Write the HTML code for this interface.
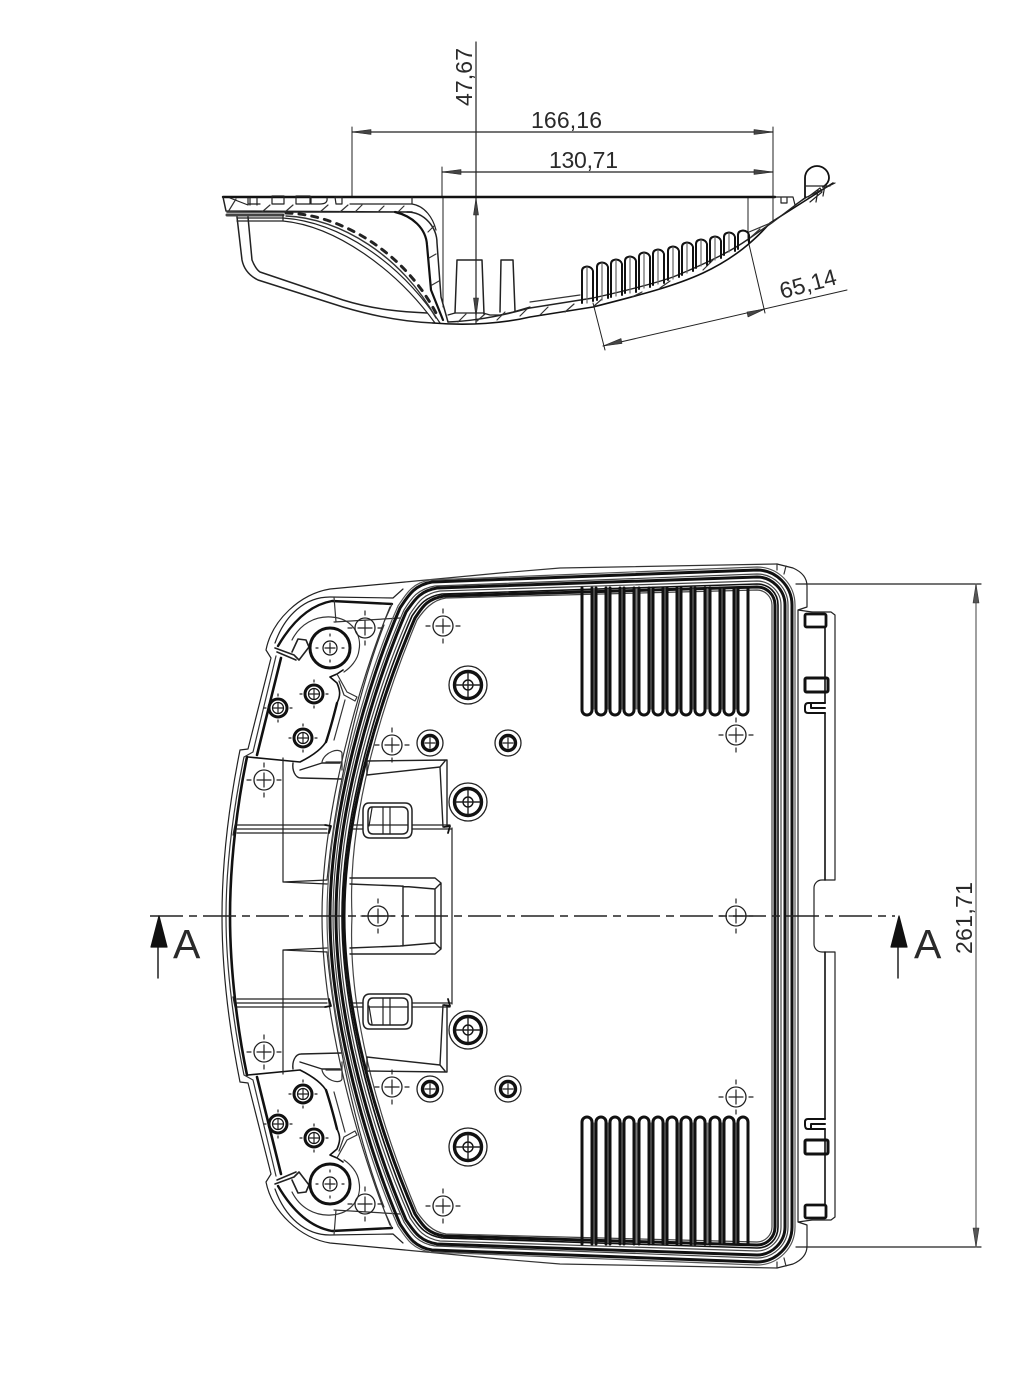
<!DOCTYPE html>
<html>
<head>
<meta charset="utf-8">
<style>
html,body{margin:0;padding:0;background:#fff;width:1024px;height:1380px;overflow:hidden}
svg{display:block}
text{font-family:"Liberation Sans",sans-serif;fill:#2a2a2a}
</style>
</head>
<body>
<svg width="1024" height="1380" viewBox="0 0 1024 1380" xmlns="http://www.w3.org/2000/svg" fill="none" stroke="#111" stroke-width="1.2" stroke-linecap="round" stroke-linejoin="round">
<defs>
<g id="fin">
<path d="M-5 588V710A5 5 0 0 0 5 710V588" stroke-width="3"/>
</g>
<g id="cross">
<circle r="10" stroke="#222" stroke-width="1.3"/>
<path d="M-7 0H7M0 -7V7M-17 0H-13M13 0H17M0 -17V-13M0 13V17" stroke="#222"/>
</g>
<g id="boltL">
<circle r="19" stroke="#222" stroke-width="1.3"/>
<circle r="13.500" stroke-width="3.4"/>
<circle r="5" stroke-width="1.4"/>
<path d="M-12 0H12M0 -12V12" stroke="#222" stroke-width="1.4"/>
</g>
<g id="boltM">
<circle r="13" stroke="#222" stroke-width="1.3"/>
<circle r="7.500" stroke-width="3.4"/>
<path d="M-5 0H5M0 -5V5" stroke="#222"/>
</g>
<g id="boltS">
<circle r="9" stroke-width="3"/>
<circle r="5.5" stroke-width="1.2"/>
<path d="M-5 0H5M0 -5V5M-14 0H-12M12 0H14M0 -14V-12M0 12V14" stroke="#222"/>
</g>
<g id="half">
<!-- outer contour -->
<path d="M405 582L330 589C300 594 272 620 266 650L271 658L248 749L240 750C232 790 222 850 222 916" stroke="#222"/>
<path d="M777 564L560 568L500 573L405 582" stroke="#333"/>
<!-- left lobe inner lines -->
<path d="M275 643C285 615 305 597 330 597L393 598L403 589" stroke="#222"/>
<path d="M278 646C292 622 310 605 332 601L392 604" stroke="#111" stroke-width="2.4"/>
<path d="M281 658L257 755M247 757C238 800 230 860 230 916" stroke="#111" stroke-width="2.6"/>
<path d="M276 656L253 752L244 757C235 800 226 860 226 916" stroke="#333"/>
<path d="M334 597L336 622M334 622L400 618" stroke="#333"/>
<path d="M392 604L384 622L390 607M322 916C322 810 360 680 390 607" stroke="#333"/>
<path d="M327 880C335 800 355 700 384 625" stroke="#333"/>
<path d="M275 648L294 655L299 660L309 647L306 640L298 639L292 652M277 652L296 660" stroke="#222" stroke-width="1.6"/>
<path d="M292 640C300 624 315 616 331 617C352 618 362 635 359 650C358 660 350 668 344 672" stroke="#333"/>
<circle cx="330" cy="648" r="20" stroke-width="3"/>
<circle cx="330" cy="648" r="7"/>
<path d="M325 648H335M330 643V653M316 648H318M342 648H344M330 634V636M330 660V662" stroke="#222"/>
<path d="M330 677L337 674L343 670M330 677L337 683C340 690 341 695 337 703L327 740C322 750 310 757 300 762L248 757" stroke="#111" stroke-width="1.6"/>
<path d="M337 674L347 692L357 697L355 701L344 695L339 681" stroke="#333"/>
<path d="M337 703C334 715 330 730 326 742" stroke="#111" stroke-width="2.4"/>
<path d="M345 700L334 740" stroke="#333"/>
<path d="M293 763C292 770 295 778 301 778L341 779M300 770L322 763L340 763" stroke="#222" stroke-width="1.4"/>
<path d="M322 762C324 752 340 747 342 753V770M326 762H342" stroke="#333"/>
<!-- wide band lines -->
<path d="M237 825H327M237 829H327M237 833H327M235 825L233 835" stroke="#222"/>
<path d="M283 758V882L327 880M283 882L327 884" stroke="#222"/>
<path d="M325 825L331 826L329 833" stroke="#111" stroke-width="1.8"/>
<!-- gasket rings -->
<path d="M795 916V605C795 584 778 567 757 567L430 580C412 583 406 594 398 606C365 680 327 810 327 916" stroke="#555"/>
<path d="M792 916V605C792 586 776 570 757 570L432 582C414 585 408 596 400 608C368 682 330 810 330 916" stroke-width="3"/>
<path d="M788 916V605C788 588 774 574 757 574L435 586C417 589 411 599 404 610C371 684 333 810 333 916" stroke="#444"/>
<path d="M785 916V605C785 590 772 577 757 577L437 588C419 591 414 601 406 612C374 686 336 810 336 916" stroke-width="3"/>
<path d="M781 916V605C781 592 770 581 757 581L440 591C422 594 417 604 410 614C377 688 339 810 339 916" stroke="#444"/>
<path d="M778 916V605C778 593 769 584 757 584L442 594C424 597 419 606 412 616C380 690 342 810 342 916" stroke-width="1.6"/>
<path d="M775 916V605C775 595 767 587 757 587L444 596C426 599 422 608 415 618C383 692 344 810 344 916" stroke-width="3"/>
<path d="M772 916V605C772 597 765 590 757 590L446 598C432 600 424 610 417 620C386 694 347 810 352 916" stroke="#444"/>
<!-- center features -->
<path d="M367 761L447 760V827M367 775L440 767L445 761M367 761V775M440 767L443 827" stroke="#222" stroke-width="1.4"/>
<path d="M353 825H363M412 825H450M353 829H363M412 829H451M452 828V916" stroke="#222"/>
<path d="M444 827L450 826L448 833" stroke="#111" stroke-width="1.8"/>
<path d="M369 803H405Q412 803 412 811V830Q412 838 405 838H370Q363 838 363 830V811Q363 803 369 803Z" stroke="#222" stroke-width="1.5"/>
<path d="M372 807H402Q408 807 408 813V828Q408 834 402 834H373Q368 834 368 828V813Q368 807 372 807Z" stroke="#222" stroke-width="1.5"/>
<path d="M383 807V834M390 807V834M372 808L369 826M408 825H368" stroke="#222"/>
<path d="M350 878H435L441 883V916M350 884L400 886L435 889L441 883M435 889V916M403 886V916" stroke="#222" stroke-width="1.4"/>
<!-- fins -->
<path d="M594 590V708M608 590V708M622 590V708M636.500 590V708M651 590V708M665 590V708M679 590V708M693 590V708M707.500 590V708M722 590V708M736 590V708" stroke="#777" stroke-width="3"/>
<use href="#fin" x="587"/><use href="#fin" x="601"/><use href="#fin" x="615"/><use href="#fin" x="629"/>
<use href="#fin" x="644"/><use href="#fin" x="658"/><use href="#fin" x="672"/><use href="#fin" x="686"/>
<use href="#fin" x="700"/><use href="#fin" x="715"/><use href="#fin" x="729"/><use href="#fin" x="743"/>
<!-- right flange -->
<path d="M777 564L793 568C802 572 807 578 807 586V607L798 610V916M798 610L812 612" stroke="#222"/>
<path d="M777 564V570M786 566L784 574" stroke="#333"/>
<path d="M812 612H831L835 615V880H822C817 880 814 884 814 888V916" stroke="#222"/>
<path d="M825 627V703M825 713V880" stroke="#111" stroke-width="1.6"/>
<rect x="805" y="614" width="21" height="13" rx="1.5" stroke-width="2.8"/>
<rect x="805" y="678" width="23" height="14" rx="1.5" stroke-width="3"/>
<path d="M825 703H808Q805 703 805 707V710Q805 713 808 713H825M811 703V708H825" stroke-width="2"/>
<!-- bolts -->
<use href="#boltS" x="314" y="694"/><use href="#boltS" x="278" y="708"/><use href="#boltS" x="303" y="738"/>
<use href="#boltL" x="468" y="685"/><use href="#boltL" x="468" y="802"/>
<use href="#boltM" x="430" y="743"/><use href="#boltM" x="508" y="743"/>
<use href="#cross" x="365" y="628"/><use href="#cross" x="443" y="626"/><use href="#cross" x="392" y="745"/>
<use href="#cross" x="264" y="780"/><use href="#cross" x="736" y="735"/>
</g>
</defs>

<!-- plan view -->
<use href="#half"/>
<use href="#half" transform="matrix(1 0 0 -1 0 1832)"/>
<use href="#cross" x="378" y="916"/>
<use href="#cross" x="736" y="916"/>
<!-- center line -->
<path d="M150 916H895" stroke="#222" stroke-width="1.6" stroke-dasharray="33 6 8 6" stroke-linecap="butt"/>
<!-- section arrows -->
<path d="M158 978V946" stroke-width="1.4"/>
<path d="M159 916L167 947H151Z" fill="#111"/>
<text x="173" y="958" font-size="41" stroke="none">A</text>
<path d="M898 978V946" stroke-width="1.4"/>
<path d="M899 916L907 947H891Z" fill="#111"/>
<text x="914" y="958" font-size="41" stroke="none">A</text>
<!-- 261,71 -->
<path d="M796 584H981M796 1247H981" stroke="#222"/>
<path d="M976 584V1247" stroke="#777" stroke-width="1.4"/>
<path d="M976 584L979 603H973ZM976 1247L979 1228H973Z" fill="#555" stroke="#333" stroke-width=".6"/>
<text transform="translate(972 954) rotate(-90)" font-size="23" textLength="72" stroke="none">261,71</text>

<!-- section view: dims -->
<path d="M352 127V197M442 167V197M443 197V307M773 127V222M748 197V240" stroke="#222" stroke-width="1"/>
<path d="M352 132H773M442 172H773" stroke="#222"/>
<path d="M352 132L371 129.5V134.500ZM773 132L754 129.500V134.500ZM442 172L461 169.500V174.500ZM773 172L754 169.500V174.500Z" fill="#444" stroke="#222" stroke-width=".6"/>
<path d="M476 42V323" stroke="#222"/>
<path d="M476 198L473.500 215H478.500ZM476 317L473.500 298H478.500Z" fill="#444" stroke="#222" stroke-width=".6"/>
<text transform="translate(472 106) rotate(-90)" font-size="23" textLength="58" stroke="none">47,67</text>
<text x="531" y="128" font-size="23" textLength="71" stroke="none">166,16</text>
<text x="549" y="168" font-size="23" textLength="69" stroke="none">130,71</text>
<path d="M593 303L605 350M748 240L765 313M603 346L847 290" stroke="#222" stroke-width="1"/>
<path d="M603 346L621 338.500L622 343.500ZM765 309L747 312L748 317Z" fill="#444" stroke="#222" stroke-width=".6"/>
<text transform="translate(782 299) rotate(-15)" font-size="23" textLength="58" stroke="none">65,14</text>

<!-- section view: body -->
<path d="M223 197H775" stroke-width="2.4"/>
<path d="M223 197L226 211L412 212M227 212L407 212" stroke="#222" stroke-width="1.5"/>
<path d="M227 215H283" stroke="#444" stroke-width="3"/>
<path d="M407 212C425 212 437 228 437 243L441 297L448 322" stroke="#222" stroke-width="1.5"/>
<path d="M412 204C425 206 433 218 436 230" stroke="#222"/>
<path d="M412 197V204H350" stroke="#222"/>
<path d="M395 212C412 216 426 228 427 245L431 290L443 320" stroke-width="2.2"/>
<path d="M248 198V204H260M248 205L230 198M250 198V205M257 198V205M272 196H284V204H272ZM296 196H310V204H296ZM311 197V204H320Q328 204 327 198M335 197H342V204H336Z" stroke="#222"/>
<path d="M228 212L236 199M262 212L270 205M285 212L293 205M320 212L328 205M340 212L348 205M355 212L362 205M378 212L384 206M398 212L404 206M428 232L434 226M429 258L436 254M432 285L439 281" stroke="#333"/>
<!-- lens -->
<path d="M237 217L242 260C244 270 250 276 258 280L343 307C380 318 410 322 433 323" stroke="#222" stroke-width="1.5"/>
<path d="M248 217L252 260C254 265 257 270 260 272L343 300C375 310 405 312 427 313" stroke="#222" stroke-width="1.5"/>
<path d="M237 218H283M237 221H283M283 215V221" stroke="#222"/>
<!-- serrated curved -->
<path d="M283 218C340 222 400 262 440 323" stroke="#222"/>
<path d="M283 221C335 226 395 268 435 323" stroke="#222"/>
<path d="M286 213C340 214 405 252 437 315" stroke="#222" stroke-width="3" stroke-dasharray="6 7"/>
<path d="M286 216C340 218 402 256 436 318" stroke="#333" stroke-width="1.4"/>
<!-- bottom curve -->
<path d="M433 323C470 326 505 323 530 317L593 307C640 295 675 286 703 273C735 258 755 240 770 223L833 183" stroke-width="1.6"/>
<path d="M448 322C475 321 505 315 530 308L593 298C620 292 650 285 673 277C700 266 730 252 747 240L773 222L806 197" stroke="#222" stroke-width="1.4"/>
<path d="M448 315L455 313H483L490 315H500L513 312L530 307" stroke="#222"/>
<path d="M530 302L580 295" stroke="#333"/>
<path d="M458 322L466 314M477 321L485 314M497 320L505 312M520 316L527 309M540 315L548 307M565 312L574 304M594 306L602 299M632 297L642 292M660 288L670 281M703 270L713 260M750 238L760 229" stroke="#333"/>
<!-- posts -->
<path d="M455 313L457 260H482L484 314M500 312L501 260H513L515 311" stroke="#222" stroke-width="1.5"/>
<!-- section fins -->
<path d="M582 303V271Q582 267 587 266.500Q592 267 593 271V301M597 300V267Q597 263 602 262.500Q607 263 608 267V298M611 297V264Q611 260 616 259.500Q621 260 622 264V295M625 293V261Q625 257 630 256.500Q635 257 636 261V292M639 289V257Q639 253 644 252.500Q649 253 650 257V287M653 285V254Q653 250 658 249.500Q663 250 664 254V283M668 280V251Q668 247 673 246.500Q678 247 679 251V277M682 275V247Q682 243 687 242.500Q692 243 693 247V271M696 268V244Q696 240 701 239.500Q706 240 707 244V265M710 262V241Q710 237 715 236.500Q720 237 721 241V258M724 255V237Q724 233 729 232.500Q734 233 735 237V251M738 249V235Q738 231 743 230.500Q748 231 749 235V243" stroke-width="2"/>
<path d="M587 267V303M602 263V300M616 260V296M630 257V293M644 253V288M658 250V284M673 247V279M687 243V273M701 240V266M715 237V260M729 233V252" stroke="#666"/>
<path d="M749 232L773 222" stroke="#333"/>
<!-- right hook -->
<path d="M773 197H793L795 205L807 197L835 183M781 198V203H787V198" stroke="#222"/>
<path d="M805 197C805 190 805 183 805 178A12 12 0 0 1 829 178C829 182 826 185 823 187" stroke-width="1.8"/>
<path d="M808 197L820 188L822 192L810 202M805 186H830M818 190L816 202M825 185L823 196" stroke="#222"/>
</svg>
</body>
</html>
